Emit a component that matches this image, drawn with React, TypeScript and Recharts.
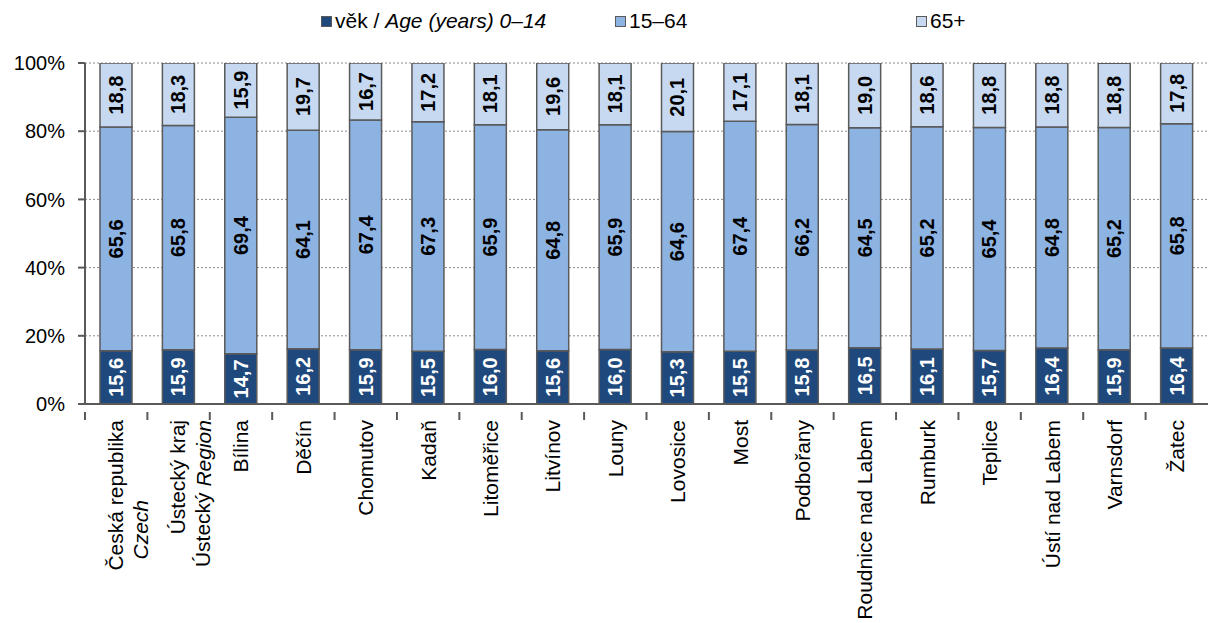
import * as React from "react"
import { Bar, BarChart, CartesianGrid, XAxis, YAxis, LabelList } from "recharts"

const W = 1208
const H = 623
const PLOT_LEFT = 85
const PLOT_TOP = 63
const PLOT_BOTTOM = 404

const categories = [
  "Česká republika", "Ústecký kraj", "Bílina", "Děčín", "Chomutov", "Kadaň", "Litoměřice", "Litvínov", "Louny",
  "Lovosice", "Most", "Podbořany", "Roudnice nad Labem", "Rumburk", "Teplice", "Ústí nad Labem", "Varnsdorf", "Žatec",
]
// second lines of the wrapped tick labels (italic part kept apart)
const secondLines: Record<string, { plain: string; italic: string }> = {
  "Česká republika": { plain: "", italic: "Czech" },
  "Ústecký kraj": { plain: "Ústecký ", italic: "Region" },
}

const age0to14 = [15.6, 15.9, 14.7, 16.2, 15.9, 15.5, 16.0, 15.6, 16.0, 15.3, 15.5, 15.8, 16.5, 16.1, 15.7, 16.4, 15.9, 16.4]
const age15to64 = [65.6, 65.8, 69.4, 64.1, 67.4, 67.3, 65.9, 64.8, 65.9, 64.6, 67.4, 66.2, 64.5, 65.2, 65.4, 64.8, 65.2, 65.8]
const age65plus = [18.8, 18.3, 15.9, 19.7, 16.7, 17.2, 18.1, 19.6, 18.1, 20.1, 17.1, 18.1, 19.0, 18.6, 18.8, 18.8, 18.8, 17.8]

const yTicks = [0, 20, 40, 60, 80, 100]

const colors = {
  young: "#1F497D",
  mid: "#8DB3E2",
  old: "#C6D9F1",
  border: "#5A5A5A",
}

const data = categories.map((name, i) => ({
  name,
  young: age0to14[i],
  mid: age15to64[i],
  old: age65plus[i],
}))

const FONT = "'Liberation Sans', Arial, sans-serif"
const band = (W - PLOT_LEFT) / categories.length

const fmt = (v: number) => v.toFixed(1).replace(".", ",")

const makeLabel = (fill: string) => (props: any) => {
  const { x, y, width, height, value } = props
  const cx = x + width / 2
  const cy = y + height / 2
  return (
    <text
      x={cx}
      y={cy}
      transform={`rotate(-90 ${cx} ${cy})`}
      textAnchor="middle"
      dominantBaseline="central"
      fill={fill}
      fontFamily={FONT}
      fontWeight="bold"
      fontSize={20}
    >
      {fmt(value)}
    </text>
  )
}

const XTick = (props: any) => {
  const { x, y, payload } = props
  const name: string = payload.value
  const second = secondLines[name]
  const top = y + 8
  const x1 = second ? x - 1 : x
  const x2 = x + 24
  const top2 = second && !second.plain ? top + 80 : top
  return (
    <g>
      <line x1={x - band / 2} y1={y} x2={x - band / 2} y2={y + 8} stroke={colors.border} strokeWidth={2} />
      <text
        x={x1}
        y={top}
        transform={`rotate(-90 ${x1} ${top})`}
        textAnchor="end"
        dominantBaseline="central"
        fontFamily={FONT}
        fontSize={21}
        fill="#000"
      >
        {name}
      </text>
      {second && (
        <text
          x={x2}
          y={top2}
          transform={`rotate(-90 ${x2} ${top2})`}
          textAnchor="end"
          dominantBaseline="central"
          fontFamily={FONT}
          fontSize={21}
          fill="#000"
        >
          {second.plain}
          <tspan fontStyle="italic">{second.italic}</tspan>
        </text>
      )}
    </g>
  )
}

const LegendBox = () => {
  const item = (left: number, color: string, content: React.ReactNode) => (
    <div style={{ position: "absolute", left, top: 8, height: 26, display: "flex", alignItems: "center", fontFamily: FONT, fontSize: 21, color: "#000", whiteSpace: "nowrap" }}>
      <span style={{ display: "inline-block", width: 9, height: 9, background: color, border: `1.5px solid ${colors.border}`, marginRight: 3 }} />
      {content}
    </div>
  )
  return (
    <div style={{ position: "absolute", left: 0, top: 0, width: W, height: 40, overflow: "hidden" }}>
      {item(321, colors.young, <span>věk / <i>Age (years) 0–14</i></span>)}
      {item(615, colors.mid, <span>15–64</span>)}
      {item(916, colors.old, <span>65+</span>)}
    </div>
  )
}

export default function App() {
  return (
    <div style={{ position: "absolute", left: 0, top: 0, width: W, height: H, background: "#fff" }}>
      <BarChart
        width={W}
        height={H}
        data={data}
        margin={{ top: PLOT_TOP, right: 0, left: 0, bottom: 0 }}
        barSize={32}
      >
        <CartesianGrid vertical={false} stroke="#8C8C8C" strokeDasharray="2 2" />
        <XAxis
          dataKey="name"
          interval={0}
          height={H - PLOT_BOTTOM}
          tick={<XTick />}
          tickLine={false}
          axisLine={{ stroke: colors.border, strokeWidth: 2 }}
        />
        <YAxis
          domain={[0, 100]}
          ticks={yTicks}
          allowDataOverflow
          width={PLOT_LEFT}
          tickFormatter={(v) => `${v}%`}
          tick={{ fontFamily: FONT, fontSize: 20, fill: "#000" }}
          tickSize={7}
          tickMargin={13}
          tickLine={{ stroke: colors.border, strokeWidth: 2 }}
          axisLine={{ stroke: colors.border, strokeWidth: 2 }}
        />
        <Bar dataKey="young" stackId="a" fill={colors.young} stroke={colors.border} strokeWidth={1.5} isAnimationActive={false}>
          <LabelList dataKey="young" content={makeLabel("#fff")} />
        </Bar>
        <Bar dataKey="mid" stackId="a" fill={colors.mid} stroke={colors.border} strokeWidth={1.5} isAnimationActive={false}>
          <LabelList dataKey="mid" content={makeLabel("#000")} />
        </Bar>
        <Bar dataKey="old" stackId="a" fill={colors.old} stroke={colors.border} strokeWidth={1.5} isAnimationActive={false}>
          <LabelList dataKey="old" content={makeLabel("#000")} />
        </Bar>
      </BarChart>
      <LegendBox />
    </div>
  )
}
